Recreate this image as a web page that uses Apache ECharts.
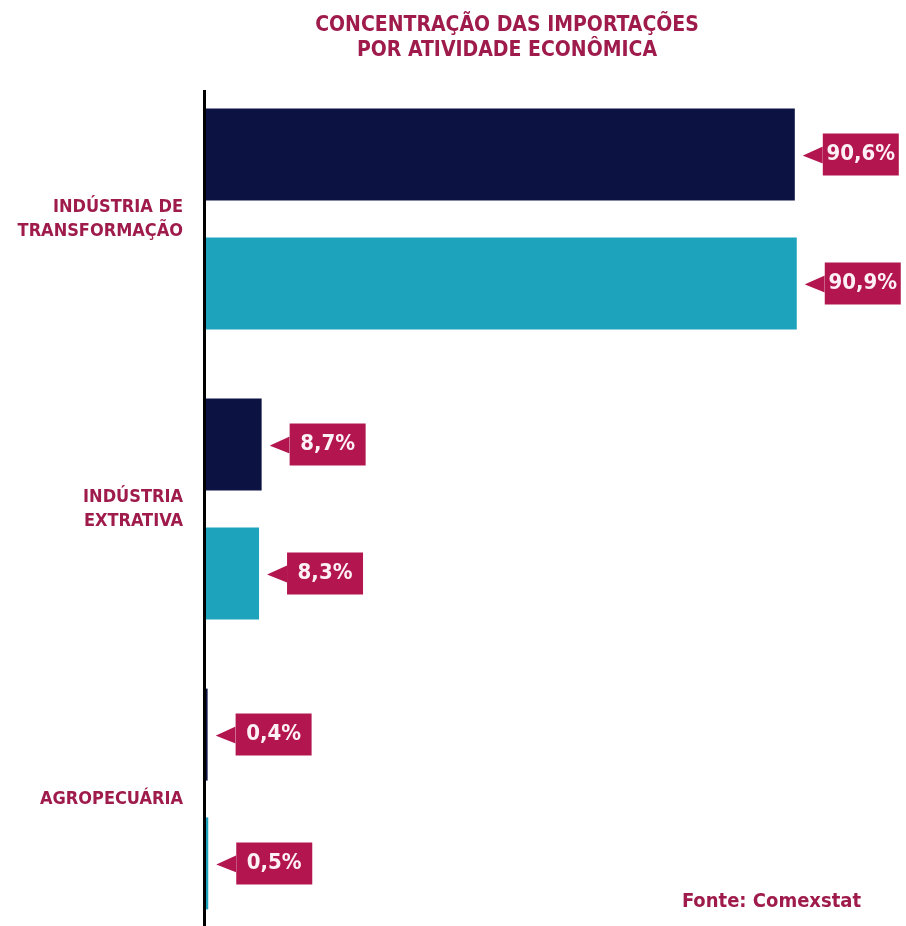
<!DOCTYPE html>
<html>
<head>
<meta charset="utf-8">
<script src="https://cdn.jsdelivr.net/npm/echarts@6/dist/echarts.min.js"></script>
<style>
html,body{margin:0;padding:0;background:#fff;}
#chart{width:906px;height:926px;}
</style>
</head>
<body>
<div id="chart"></div>
<script>
const titleText = 'CONCENTRAÇÃO DAS IMPORTAÇÕES\nPOR ATIVIDADE ECONÔMICA';
const sourceText = 'Fonte: Comexstat';
const categories = ['INDÚSTRIA DE\nTRANSFORMAÇÃO', 'INDÚSTRIA\nEXTRATIVA', 'AGROPECUÁRIA'];
const seriesA = [90.6, 8.7, 0.4];
const seriesB = [90.9, 8.3, 0.5];

const FONT = '"DejaVu Sans Condensed", "DejaVu Sans", sans-serif';
const CRIMSON = '#9e1b4b';
const BOX = '#b3164f';
const NAVY = '#0c1343';
const TEAL = '#1ea3bd';

const arrowSvg = '<svg xmlns="http://www.w3.org/2000/svg" width="20" height="42" viewBox="0 0 20 42"><polygon points="0,22 20,13 20,30" fill="' + BOX + '"/></svg>';
const arrowUri = 'data:image/svg+xml;utf8,' + encodeURIComponent(arrowSvg);

function fmt(v) { return v.toFixed(1).replace('.', ',') + '%'; }

const labelCfg = {
  show: true,
  position: 'right',
  distance: 8,
  formatter: p => '{a|}{b|' + fmt(p.value) + '}',
  rich: {
    a: { width: 20, height: 42, backgroundColor: { image: arrowUri } },
    b: {
      width: 64, height: 42, padding: [0, 6], align: 'center',
      backgroundColor: BOX, color: '#fdf1f5',
      fontFamily: FONT, fontWeight: 'bold', fontSize: 22
    }
  }
};

const chart = echarts.init(document.getElementById('chart'));
chart.setOption({
  animation: false,
  backgroundColor: '#ffffff',
  title: [{
    text: titleText,
    left: 502, top: 8, textAlign: 'center',
    textStyle: { fontFamily: FONT, fontWeight: 'bold', fontSize: 21, color: CRIMSON, lineHeight: 25 }
  }, {
    text: sourceText,
    right: 40, top: 887,
    textStyle: { fontFamily: FONT, fontWeight: 'bold', fontSize: 20, color: CRIMSON }
  }],
  grid: { left: 205, top: 74, height: 870, right: 50, containLabel: false, outerBoundsMode: 'none' },
  xAxis: {
    type: 'value', min: 0, max: 100, show: false
  },
  yAxis: {
    type: 'category', data: categories, inverse: true,
    axisLine: { show: false }, axisTick: { show: false },
    axisLabel: {
      margin: 22, align: 'right',
      fontFamily: FONT, fontWeight: 'bold', fontSize: 18, lineHeight: 24, color: CRIMSON
    }
  },
  graphic: [{
    type: 'line', z: 10,
    shape: { x1: 204.5, y1: 90, x2: 204.5, y2: 926 },
    style: { stroke: '#000', lineWidth: 3 }
  }],
  series: [{
    type: 'bar', data: seriesA, barWidth: 92, barGap: '40%',
    itemStyle: { color: NAVY }, label: labelCfg
  }, {
    type: 'bar', data: seriesB, barWidth: 92, barGap: '40%',
    itemStyle: { color: TEAL }, label: labelCfg
  }]
});
</script>
</body>
</html>
